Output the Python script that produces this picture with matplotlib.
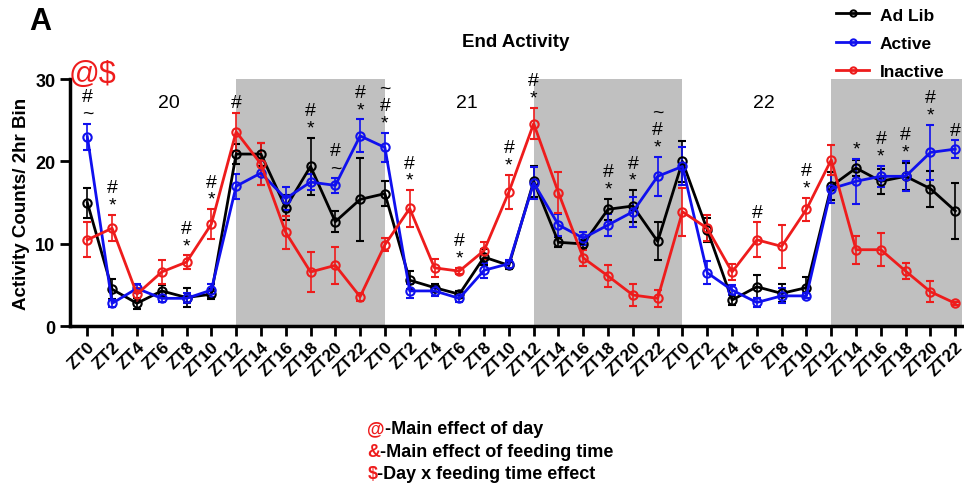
import matplotlib.pyplot as plt
from matplotlib.lines import Line2D

plt.rcParams['font.family'] = ['Liberation Sans', 'DejaVu Sans']

# x categories: 3 days x 12 two-hour bins
zt_labels = ['ZT%d' % h for h in range(0, 24, 2)] * 3
days = ['20', '21', '22']

ad_lib = [15.0, 4.5, 2.8, 4.3, 3.5, 3.9, 20.9, 20.9, 14.4, 19.4, 12.7, 15.4,
          16.1, 5.6, 4.7, 3.9, 8.4, 7.4, 17.6, 10.2, 10.0, 14.2, 14.6, 10.3,
          20.0, 11.7, 3.2, 4.8, 4.0, 4.7, 17.0, 19.2, 17.6, 18.2, 16.7, 14.0]
ad_lib_err = [1.8, 1.2, 0.7, 0.7, 1.1, 0.6, 1.2, 1.4, 1.5, 3.5, 1.3, 5.0,
              1.5, 1.1, 0.5, 0.4, 1.0, 0.5, 1.9, 0.6, 0.5, 1.3, 1.9, 2.3,
              2.5, 1.5, 0.6, 1.4, 1.1, 1.3, 1.7, 1.0, 1.5, 1.6, 2.2, 3.4]

active = [23.0, 2.8, 4.6, 3.4, 3.4, 4.4, 17.0, 18.6, 15.5, 17.5, 17.1, 23.1,
          21.7, 4.3, 4.3, 3.4, 6.8, 7.6, 17.4, 12.3, 10.7, 12.3, 13.9, 18.2,
          19.4, 6.5, 4.4, 2.9, 3.7, 3.7, 16.7, 17.6, 18.2, 18.2, 21.1, 21.5]
active_err = [1.6, 0.4, 0.5, 0.4, 0.6, 0.8, 1.5, 1.5, 1.4, 1.0, 0.9, 2.0,
              1.8, 0.9, 0.6, 0.4, 0.9, 0.5, 1.9, 1.3, 0.8, 1.3, 1.8, 2.4,
              2.3, 1.4, 0.6, 0.6, 0.9, 0.3, 1.7, 2.7, 1.3, 1.8, 3.3, 1.1]

inactive = [10.5, 11.9, 3.9, 6.6, 7.8, 12.4, 23.6, 19.7, 11.4, 6.6, 7.4, 3.6,
            9.9, 14.3, 7.1, 6.7, 9.2, 16.3, 24.6, 16.2, 8.3, 6.1, 3.8, 3.4,
            13.9, 11.9, 6.6, 10.5, 9.7, 14.2, 20.2, 9.3, 9.3, 6.7, 4.2, 2.8]
inactive_err = [2.1, 1.6, 0.8, 1.5, 0.8, 1.8, 2.3, 2.5, 2.0, 2.4, 2.2, 0.5,
                0.8, 2.2, 1.1, 0.4, 1.0, 2.1, 1.9, 2.5, 1.0, 1.3, 1.3, 1.0,
                2.9, 1.6, 1.0, 2.1, 2.6, 1.4, 1.8, 1.7, 2.0, 1.0, 1.3, 0.2]

# significance marks (bottom to top) per bin index
marks = {0: ['~', '#'], 1: ['*', '#'], 4: ['*', '#'], 5: ['*', '#'], 6: ['#'],
         9: ['*', '#'], 10: ['~', '#'], 11: ['*', '#'], 12: ['*', '#', '~'],
         13: ['*', '#'], 15: ['*', '#'], 17: ['*', '#'], 18: ['*', '#'],
         21: ['*', '#'], 22: ['*', '#'], 23: ['*', '#', '~'], 27: ['#'],
         29: ['*', '#'], 31: ['*'], 32: ['*', '#'], 33: ['*', '#'],
         34: ['*', '#'], 35: ['#']}

footnotes = [('@', '-Main effect of day'),
             ('&', '-Main effect of feeding time'),
             ('$', '-Day x feeding time effect')]

fig = plt.figure(figsize=(9.64, 4.85), dpi=100)
ax = fig.add_axes([0.0726, 0.325, 0.925, 0.51])

x = list(range(len(zt_labels)))

# dark phases ZT12 -> ZT0
for start in (6, 18, 30):
    ax.axvspan(start, start + 6, ymin=0, ymax=1, color='#c0c0c0', lw=0, zorder=0)

series = [('Ad Lib', ad_lib, ad_lib_err, 'black'),
          ('Active', active, active_err, '#1010ee'),
          ('Inactive', inactive, inactive_err, '#ee1c1c')]
handles = []
for name, vals, err, col in series:
    ax.errorbar(x, vals, yerr=err, color=col, lw=2, marker='o', ms=6,
                mfc='none', mew=1.5, elinewidth=1.2, capsize=3, capthick=1.2,
                zorder=3)
    handles.append(Line2D([], [], color=col, lw=2, marker='o', ms=4.5,
                          mfc='none', mew=1.5, label=name))

for i, syms in marks.items():
    top = max(ad_lib[i] + ad_lib_err[i], active[i] + active_err[i],
              inactive[i] + inactive_err[i])
    for k, s in enumerate(syms):
        ax.text(i, top + 1.2 + 2.1 * k, s, ha='center', va='center',
                fontsize=14, zorder=4)

for d, lbl in enumerate(days):
    ax.text(3.3 + 12 * d, 27.2, lbl, ha='center', va='center', fontsize=14)

ax.set_xlim(-0.7, 35.26)
ax.set_ylim(0, 30)
ax.set_yticks([0, 10, 20, 30])
ax.set_xticks(x)
ax.set_xticklabels(zt_labels, rotation=45, ha='right', rotation_mode='anchor',
                   fontsize=12.5, fontweight='bold')
for t in ax.get_yticklabels():
    t.set_fontweight('bold')
    t.set_fontsize(13)
ax.tick_params(axis='both', width=2, length=7, direction='out')
ax.tick_params(axis='x', pad=2)
for s in ('top', 'right'):
    ax.spines[s].set_visible(False)
for s in ('left', 'bottom'):
    ax.spines[s].set_linewidth(2.5)
ax.set_ylabel('Activity Counts/ 2hr Bin', fontsize=13.5, fontweight='bold')

ax.set_title('End Activity', fontsize=13.5, fontweight='bold', pad=24)
fig.text(0.03, 0.955, 'A', fontsize=22, fontweight='bold', va='center')
fig.text(0.071, 0.845, '@$', fontsize=22, color='#ee1c1c', va='center')

fig.legend(handles=handles, loc='upper right', bbox_to_anchor=(0.996, 1.015),
           frameon=False, prop={'weight': 'bold', 'size': 12.5},
           handlelength=1.9, labelspacing=0.75, handletextpad=0.6)

for k, (sym, txt) in enumerate(footnotes):
    t = fig.text(0.381, 0.105 - 0.0464 * k, sym, color='#ee1c1c', fontsize=13,
                 fontweight='bold', va='baseline')
    ax.annotate(txt, xy=(1, 0), xycoords=t, va='bottom', fontsize=13,
                fontweight='bold')

fig.savefig('out.png', dpi=100)
